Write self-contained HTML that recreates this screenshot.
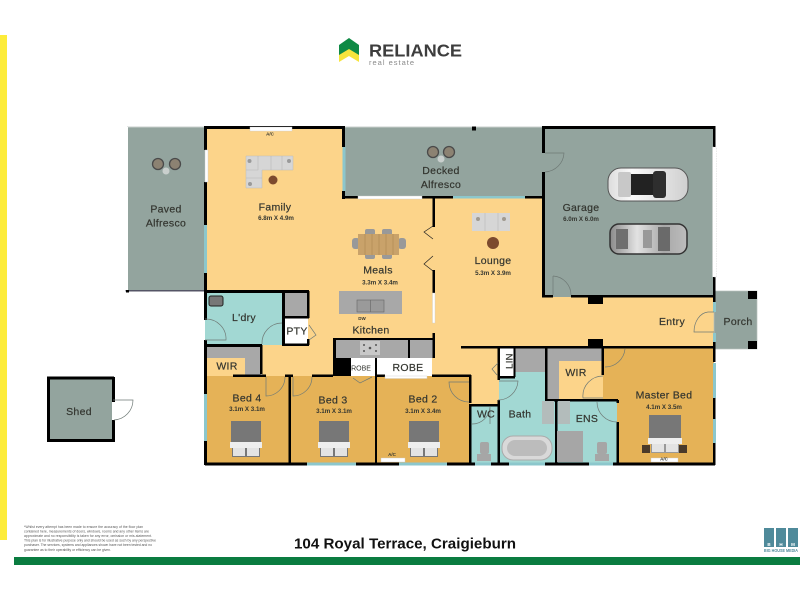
<!DOCTYPE html>
<html><head><meta charset="utf-8"><title>104 Royal Terrace</title>
<style>
html,body{margin:0;padding:0;background:#fff;width:800px;height:600px;overflow:hidden}
svg{display:block}
text{font-family:"Liberation Sans",sans-serif;fill:#33352f;text-anchor:middle}
.r{font-size:10.5px;letter-spacing:.3px;stroke:#33352f;stroke-width:.2}
.d{font-size:6.2px;font-weight:bold}
.a{font-size:4.5px;font-weight:bold}
.dr{fill:none;stroke:#6f7a76;stroke-width:.7}
.c{fill:#a6a6a6}
</style></head><body>
<svg width="800" height="600" viewBox="0 0 800 600" xmlns="http://www.w3.org/2000/svg">
<defs>
<linearGradient id="cw" x1="0" x2="1" y1="0" y2="0"><stop offset="0" stop-color="#dcdcdc"/><stop offset=".3" stop-color="#fafafa"/><stop offset="1" stop-color="#cfcfcf"/></linearGradient>
<linearGradient id="cd" x1="0" x2="1" y1="0" y2="0"><stop offset="0" stop-color="#8a8a8a"/><stop offset=".35" stop-color="#e2e2e2"/><stop offset=".7" stop-color="#a8a8a8"/><stop offset="1" stop-color="#bdbdbd"/></linearGradient>
</defs>
<rect x="0" y="35" width="7" height="505" fill="#fdec3a"/>
<rect x="14" y="557" width="786" height="8" fill="#0a7c40"/>
<!-- logo -->
<polygon points="339,50 339,62 349,56 359,62 359,50 349,44" fill="#f7e43c"/>
<polygon points="339,45 349,38 359,45 359,55 349,49 339,55" fill="#0f8a45"/>
<text x="415.500" y="56.500" style="font-size:17.500px;font-weight:bold;fill:#3d3d3d" textLength="93" lengthAdjust="spacingAndGlyphs">RELIANCE</text>
<text x="391.500" y="65" style="font-size:7.500px;fill:#8a8a8a" textLength="45">real estate</text>
<!-- floors -->
<rect x="127" y="127" width="78" height="164" fill="#93a49e"/>
<rect x="343" y="127" width="200" height="71" fill="#93a49e"/>
<rect x="543" y="127" width="171" height="170" fill="#93a49e"/>
<rect x="714" y="291" width="43" height="58" fill="#93a49e"/>
<rect x="48" y="377" width="66" height="63" fill="#93a49e"/>
<polygon points="206,127 343,127 343,197 543,197 543,297 714,297 714,347 500,347 500,405 461,405 461,376 262,376 262,345 206,345" fill="#fcd48a"/>
<rect x="206" y="376" width="264" height="87" fill="#e5b257"/>
<rect x="603" y="347" width="111" height="116" fill="#e5b257"/>
<rect x="205" y="292" width="78" height="53" fill="#a2d8d3"/>
<polygon points="471,405 498,405 498,463 471,463" fill="#a2d8d3"/>
<polygon points="499,372 546,372 546,400 556,400 556,463 499,463" fill="#a2d8d3"/>
<rect x="556" y="400" width="61" height="63" fill="#a2d8d3"/>
<rect x="546" y="347" width="57" height="53" fill="#a8a8a8"/>
<rect x="559" y="361" width="44" height="39" fill="#fcd48a"/>
<rect x="207" y="346" width="54" height="30" fill="#a8a8a8"/>
<rect x="207" y="358" width="38" height="18" fill="#fcd48a"/>
<rect x="515" y="347" width="31" height="25" fill="#a8a8a8"/>
<rect x="285" y="293" width="23" height="23" fill="#a8a8a8"/>
<rect x="285" y="318" width="23" height="26" fill="#fff"/>
<rect x="339" y="291" width="63" height="23" fill="#a8a8a8"/>
<rect x="334" y="339" width="99" height="19" fill="#a8a8a8"/>
<rect x="351" y="358" width="24" height="18" fill="#fff"/>
<rect x="377" y="358" width="55" height="18" fill="#fff"/>
<rect x="500" y="347" width="14" height="29" fill="#fff"/>
<!-- thin outlines -->
<path d="M127 127H205M127 127V291M127 291H205M343 127H543" stroke="#c8cfcc" stroke-width="1" fill="none"/>
<rect x="126" y="127" width="2" height="164" fill="#fff"/>
<rect x="125.500" y="290" width="80" height="1.500" fill="#556"/>
<rect x="714" y="291" width="43" height="58" fill="none" stroke="#b8c2be" stroke-width=".7"/>
<!-- walls -->
<g fill="#000">
<rect x="204" y="126" width="140" height="3"/>
<rect x="204" y="126" width="3" height="24"/><rect x="204" y="182" width="3" height="43"/><rect x="204" y="273" width="3" height="47"/><rect x="204" y="340" width="3" height="54"/><rect x="204" y="441" width="3" height="24"/>
<rect x="342" y="126" width="3" height="21"/><rect x="342" y="191" width="3" height="8"/>
<rect x="342" y="196" width="16" height="2.500"/><rect x="422" y="196" width="31" height="2.500"/><rect x="525" y="196" width="19" height="2.500"/>
<rect x="542" y="126" width="173" height="3"/>
<rect x="542" y="126" width="3" height="27"/><rect x="542" y="172" width="3" height="125"/>
<rect x="542" y="295" width="11" height="2.500"/><rect x="571" y="295" width="144" height="2.500"/>
<rect x="588" y="296" width="15" height="8"/>
<rect x="713" y="126" width="2.500" height="21"/><rect x="713" y="277" width="2.500" height="25"/><rect x="713" y="342" width="2.500" height="8"/><rect x="713" y="346" width="2.500" height="16"/><rect x="713" y="398" width="2.500" height="21"/><rect x="713" y="443" width="2.500" height="22"/>
<rect x="748" y="291" width="9" height="8"/><rect x="748" y="341" width="9" height="8"/>
<rect x="432.500" y="198" width="2.500" height="29"/><rect x="432.500" y="270" width="2.500" height="23"/><rect x="432.500" y="333" width="2.500" height="25"/>
<rect x="408" y="338" width="2" height="20"/>
<rect x="333" y="338" width="100" height="2"/>
<rect x="204" y="290" width="105" height="3"/>
<rect x="282" y="291" width="3" height="54"/>
<rect x="283" y="316" width="26" height="2.500"/>
<rect x="307" y="291" width="2.500" height="27"/><rect x="307" y="339" width="2.500" height="6"/>
<rect x="282" y="343.500" width="27" height="2.500"/>
<rect x="204" y="344" width="58" height="3"/>
<rect x="260" y="345" width="2.500" height="29"/>
<rect x="233" y="374.500" width="33" height="2.500"/><rect x="285" y="374.500" width="8" height="2.500"/><rect x="312" y="374.500" width="21" height="2.500"/><rect x="432" y="374.500" width="39" height="2.500"/><rect x="376" y="374.500" width="9" height="2.500"/>
<rect x="333" y="339" width="3" height="37"/>
<rect x="333" y="358" width="18" height="18"/>
<rect x="375" y="358" width="2" height="105"/>
<rect x="288.500" y="375" width="2.500" height="90"/>
<rect x="205" y="462.500" width="510" height="3"/>
<rect x="461" y="346" width="253" height="2.500"/>
<rect x="588" y="339" width="15" height="8"/>
<rect x="469" y="375" width="2.500" height="28"/>
<rect x="469" y="404" width="30" height="2.500"/>
<rect x="469" y="404" width="2.500" height="60"/>
<rect x="497.500" y="347" width="2.500" height="33"/><rect x="497.500" y="400" width="2.500" height="64"/>
<rect x="498" y="376" width="17" height="2.500"/>
<rect x="513.500" y="347" width="2" height="30"/>
<rect x="545" y="347" width="2.500" height="54"/>
<rect x="601.500" y="347" width="2.500" height="28"/>
<rect x="545" y="399" width="73" height="2.500"/>
<rect x="555" y="400" width="2.500" height="64"/>
<rect x="616.500" y="400" width="2.500" height="3"/><rect x="616.500" y="422" width="2.500" height="42"/>
<!-- shed -->
<rect x="47" y="376.500" width="67" height="3"/><rect x="47" y="377" width="3" height="64"/><rect x="47" y="439" width="67" height="3"/><rect x="112" y="377" width="3" height="25"/><rect x="112" y="420" width="3" height="22"/>
<rect x="126" y="290" width="3" height="2.500"/><rect x="472" y="126.500" width="4" height="4"/>
</g>
<!-- windows -->
<g fill="#8cc7cc">
<rect x="342.500" y="147" width="3" height="44"/>
<rect x="453" y="196" width="72" height="2.500"/>
<rect x="204" y="225" width="3" height="48"/>
<rect x="204" y="394" width="3" height="47"/>
<rect x="713" y="302" width="3" height="10"/><rect x="713" y="333" width="3" height="9"/>
<rect x="713" y="363" width="3" height="35"/><rect x="713" y="419" width="3" height="24"/>
<rect x="307" y="462.500" width="49" height="3"/><rect x="399" y="462.500" width="48" height="3"/>
<rect x="475" y="462.500" width="16" height="3"/><rect x="509" y="462.500" width="36" height="3"/><rect x="589" y="462.500" width="24" height="3"/>
</g>
<g fill="#fff" stroke="#ccc" stroke-width=".4">
<rect x="250" y="127" width="42" height="4"/>
<rect x="205" y="150" width="3" height="32"/>
<rect x="358" y="196" width="64" height="3"/>
<rect x="712.500" y="147" width="4" height="130" stroke-dasharray="1.500 1"/>
<rect x="432.500" y="293" width="2.500" height="30"/>
<rect x="381" y="458" width="24" height="4"/><rect x="651" y="458" width="27" height="4"/>
<rect x="385" y="376" width="42" height="2.500"/>
</g>
<rect x="112" y="402" width="4" height="18" fill="#fff"/>
<!-- doors -->
<g class="dr">
<path d="M545 153H564A20 20 0 0 1 545 172"/>
<path d="M553 276V295M553 276A19 19 0 0 1 571 295"/>
<path d="M714 312H708A15 20 0 0 0 694 332H714"/>
<path d="M205 319A20 20 0 0 1 226 340H205"/>
<path d="M282 323A20 20 0 0 0 262 344"/>
<path d="M113 400H133A20 20 0 0 1 114 420"/>
<path d="M266 377V396A19 19 0 0 0 285 377"/>
<path d="M293 377V396A19 19 0 0 0 312 377"/>
<path d="M469 402A20 20 0 0 1 449 382H469"/>
<path d="M498 400A20 20 0 0 0 518 381H499"/>
<path d="M472 424A18 18 0 0 0 490 407V424"/>
<path d="M603 376A20 20 0 0 0 583 398H603"/>
<path d="M605 367A20 20 0 0 0 625 349"/>
<path d="M597 402A20 20 0 0 0 617 422"/>
<path d="M309 325L316 335L309 340"/>
<path d="M353 378L360 383L372 377"/>
<path d="M498 363L492 369L497 375"/>
<path d="M433 226L424 232L433 239M433 256L424 264L433 271" stroke="#222"/>
</g>
<!-- furniture -->
<polygon points="246,156 293,156 293,170 262,170 262,188 246,188" fill="#d6d6d6" stroke="#bbb" stroke-width=".5"/>
<path d="M258 156V170H246M271 156V170M282 156V170M246 178H262" stroke="#b8b8b8" stroke-width=".6" fill="none"/>
<circle cx="249.500" cy="161" r="2" fill="#9a9a9a"/><circle cx="289" cy="161" r="2" fill="#9a9a9a"/><circle cx="250" cy="184" r="2" fill="#9a9a9a"/>
<circle cx="273" cy="180" r="4.500" fill="#7c4a2e"/>
<rect x="472" y="213" width="38" height="18" fill="#d6d6d6"/>
<path d="M485 213V231M498 213V231" stroke="#b8b8b8" stroke-width=".6"/>
<circle cx="478" cy="219" r="2" fill="#a09a90"/><circle cx="504" cy="219" r="2" fill="#a09a90"/>
<circle cx="493" cy="243" r="6" fill="#7c4a2e"/>
<g fill="#999">
<rect x="352" y="238" width="8" height="11" rx="3"/><rect x="398" y="238" width="8" height="11" rx="3"/>
<rect x="365" y="229" width="10" height="7" rx="2"/><rect x="382" y="229" width="10" height="7" rx="2"/>
<rect x="365" y="252" width="10" height="7" rx="2"/><rect x="382" y="252" width="10" height="7" rx="2"/>
</g>
<rect x="358" y="234" width="41" height="21" fill="#c9a26a"/>
<path d="M365 234V255M372 234V255M379 234V255M386 234V255M393 234V255" stroke="#b48d55" stroke-width=".8"/>
<g fill="#8c8272" stroke="#4a4a4a" stroke-width="1.300">
<circle cx="158" cy="164" r="5.500"/><circle cx="175" cy="164" r="5.500"/>
<circle cx="433" cy="152" r="5.500"/><circle cx="449" cy="152" r="5.500"/>
</g>
<circle cx="166" cy="171" r="3.500" fill="#c9cfcd"/><circle cx="441" cy="159" r="3.500" fill="#c9cfcd"/>
<rect x="357" y="300" width="27" height="12" fill="#9a9a9a" stroke="#666" stroke-width=".6"/><path d="M370.500 300V312" stroke="#666" stroke-width=".6"/>
<rect x="360" y="341" width="20" height="14" fill="#c8c8c8"/>
<g fill="#555"><circle cx="364" cy="345" r="1"/><circle cx="376" cy="345" r="1"/><circle cx="364" cy="351" r="1"/><circle cx="376" cy="351" r="1"/><circle cx="370" cy="348" r="1.300"/></g>
<rect x="209" y="296" width="14" height="10" rx="2" fill="#777" stroke="#222"/>
<!-- cars -->
<rect x="608" y="168" width="80" height="33" rx="13" fill="url(#cw)" stroke="#555"/>
<rect x="618" y="172" width="13" height="25" rx="2" fill="#c8c8c8"/>
<rect x="631" y="174" width="22" height="21" fill="#222"/><rect x="653" y="171" width="13" height="27" rx="3" fill="#2e2e2e"/>
<rect x="610" y="224" width="77" height="30" rx="9" fill="url(#cd)" stroke="#333" stroke-width="1.500"/>
<rect x="616" y="229" width="12" height="20" fill="#6f6f6f"/><rect x="643" y="230" width="9" height="18" fill="#999"/><rect x="658" y="227" width="12" height="24" fill="#6a6a6a"/>
<!-- beds -->
<g id="beds">
<g transform="translate(231,421)"><rect width="30" height="23" fill="#777"/><rect x="-1" y="21" width="32" height="6" fill="#eee"/><rect x="1" y="27" width="28" height="9" fill="#777"/><rect x="2" y="27" width="12" height="8" fill="#e3e3e3"/><rect x="16" y="27" width="12" height="8" fill="#e3e3e3"/></g>
<g transform="translate(319,421)"><rect width="30" height="23" fill="#777"/><rect x="-1" y="21" width="32" height="6" fill="#eee"/><rect x="1" y="27" width="28" height="9" fill="#777"/><rect x="2" y="27" width="12" height="8" fill="#e3e3e3"/><rect x="16" y="27" width="12" height="8" fill="#e3e3e3"/></g>
<g transform="translate(409,421)"><rect width="30" height="23" fill="#777"/><rect x="-1" y="21" width="32" height="6" fill="#eee"/><rect x="1" y="27" width="28" height="9" fill="#777"/><rect x="2" y="27" width="12" height="8" fill="#e3e3e3"/><rect x="16" y="27" width="12" height="8" fill="#e3e3e3"/></g>
<rect x="642" y="445" width="8" height="8" fill="#4a3a2a"/><rect x="679" y="445" width="8" height="8" fill="#4a3a2a"/>
<g transform="translate(649,415)"><rect width="32" height="25" fill="#777"/><rect x="-1" y="23" width="34" height="6" fill="#eee"/><rect x="2" y="29" width="28" height="9" fill="#999"/><rect x="3" y="29" width="12" height="8" fill="#e3e3e3"/><rect x="17" y="29" width="12" height="8" fill="#e3e3e3"/></g>
</g>
<rect x="502" y="436" width="50" height="24" rx="11" fill="#d9d9d9" stroke="#aaa"/>
<rect x="507" y="440" width="40" height="16" rx="8" fill="#bcbcbc"/>
<g class="c">
<rect x="480" y="442" width="9" height="12" rx="2"/><rect x="477" y="454" width="14" height="7"/>
<rect x="597" y="442" width="10" height="12" rx="2"/><rect x="595" y="454" width="14" height="7"/>
<rect x="557" y="431" width="26" height="31"/>
</g>
<rect x="542" y="401" width="12" height="23" fill="#b3bcbb"/><rect x="558" y="401" width="12" height="23" fill="#b3bcbb"/>
<!-- labels -->
<text class="r" x="275" y="210.500">Family</text><text class="d" x="276" y="220">6.8m X 4.9m</text>
<text class="r" x="166" y="212.500">Paved</text><text class="r" x="166" y="226.500">Alfresco</text>
<text class="r" x="441" y="174">Decked</text><text class="r" x="441" y="188">Alfresco</text>
<text class="r" x="581" y="211">Garage</text><text class="d" x="581" y="221">6.0m X 6.0m</text>
<text class="r" x="378" y="273.500">Meals</text><text class="d" x="380" y="284.500">3.3m X 3.4m</text>
<text class="r" x="493" y="264">Lounge</text><text class="d" x="493" y="275">5.3m X 3.9m</text>
<text class="r" x="371" y="333.500">Kitchen</text><text class="a" x="362" y="320">DW</text>
<text class="r" x="244" y="321">L'dry</text><text class="r" x="297" y="334.500">PTY</text>
<text class="r" x="672" y="325">Entry</text><text class="r" x="738" y="325">Porch</text>
<text class="r" x="79" y="415">Shed</text>
<text class="r" x="227" y="369.500">WIR</text><text class="r" x="576" y="376">WIR</text>
<text x="361" y="370.500" style="font-size:7px">ROBE</text><text class="r" x="408" y="371">ROBE</text>
<text class="r" x="247" y="401.500">Bed 4</text><text class="d" x="247" y="411">3.1m X 3.1m</text>
<text class="r" x="333" y="403.500">Bed 3</text><text class="d" x="334" y="413">3.1m X 3.1m</text>
<text class="r" x="423" y="402.500">Bed 2</text><text class="d" x="423" y="413">3.1m X 3.4m</text>
<text class="r" x="664" y="398.500">Master Bed</text><text class="d" x="664" y="409">4.1m X 3.5m</text>
<text class="r" x="486" y="417.500">WC</text><text class="r" x="520" y="417.500">Bath</text><text class="r" x="587" y="422">ENS</text>
<text class="r" transform="translate(509,361) rotate(-90)" y="3.500" style="font-size:9.500px">LIN</text>
<text class="a" x="270" y="135.500">A/C</text><text class="a" x="392" y="456">A/C</text><text class="a" x="664" y="460.500">A/C</text>
<!-- footer -->
<text x="405" y="548.500" style="font-size:14.500px;font-weight:bold;fill:#111" textLength="222" lengthAdjust="spacingAndGlyphs">104 Royal Terrace, Craigieburn</text>
<g style="font-size:3.400px;fill:#555">
<text x="24" y="528" style="text-anchor:start;fill:#555" textLength="119">*Whilst every attempt has been made to ensure the accuracy of the floor plan</text>
<text x="24" y="532.500" style="text-anchor:start;fill:#555" textLength="125">contained here, measurements of doors, windows, rooms and any other items are</text>
<text x="24" y="537" style="text-anchor:start;fill:#555" textLength="128">approximate and no responsibility is taken for any error, omission or mis-statement.</text>
<text x="24" y="541.500" style="text-anchor:start;fill:#555" textLength="132">This plan is for illustrative purpose only and should be used as such by any perspective</text>
<text x="24" y="546" style="text-anchor:start;fill:#555" textLength="128">purchaser. The services, systems and appliances shown have not been tested and no</text>
<text x="24" y="551" style="text-anchor:start;fill:#555" textLength="87">guarantee as to their operability or efficiency can be given.</text>
</g>
<g fill="#4f8a9a"><rect x="764" y="528" width="10" height="19"/><rect x="776" y="528" width="10" height="19"/><rect x="788" y="528" width="10" height="19"/></g>
<text x="769" y="546" style="font-size:4.500px;font-weight:bold;fill:#fff">B</text><text x="781" y="546" style="font-size:4.500px;font-weight:bold;fill:#fff">H</text><text x="793" y="546" style="font-size:4.500px;font-weight:bold;fill:#fff">M</text>
<text x="781" y="552" style="font-size:4.600px;fill:#4f8a9a;font-weight:bold" textLength="34" lengthAdjust="spacingAndGlyphs">BIG HOUSE MEDIA</text>
</svg>
</body></html>
